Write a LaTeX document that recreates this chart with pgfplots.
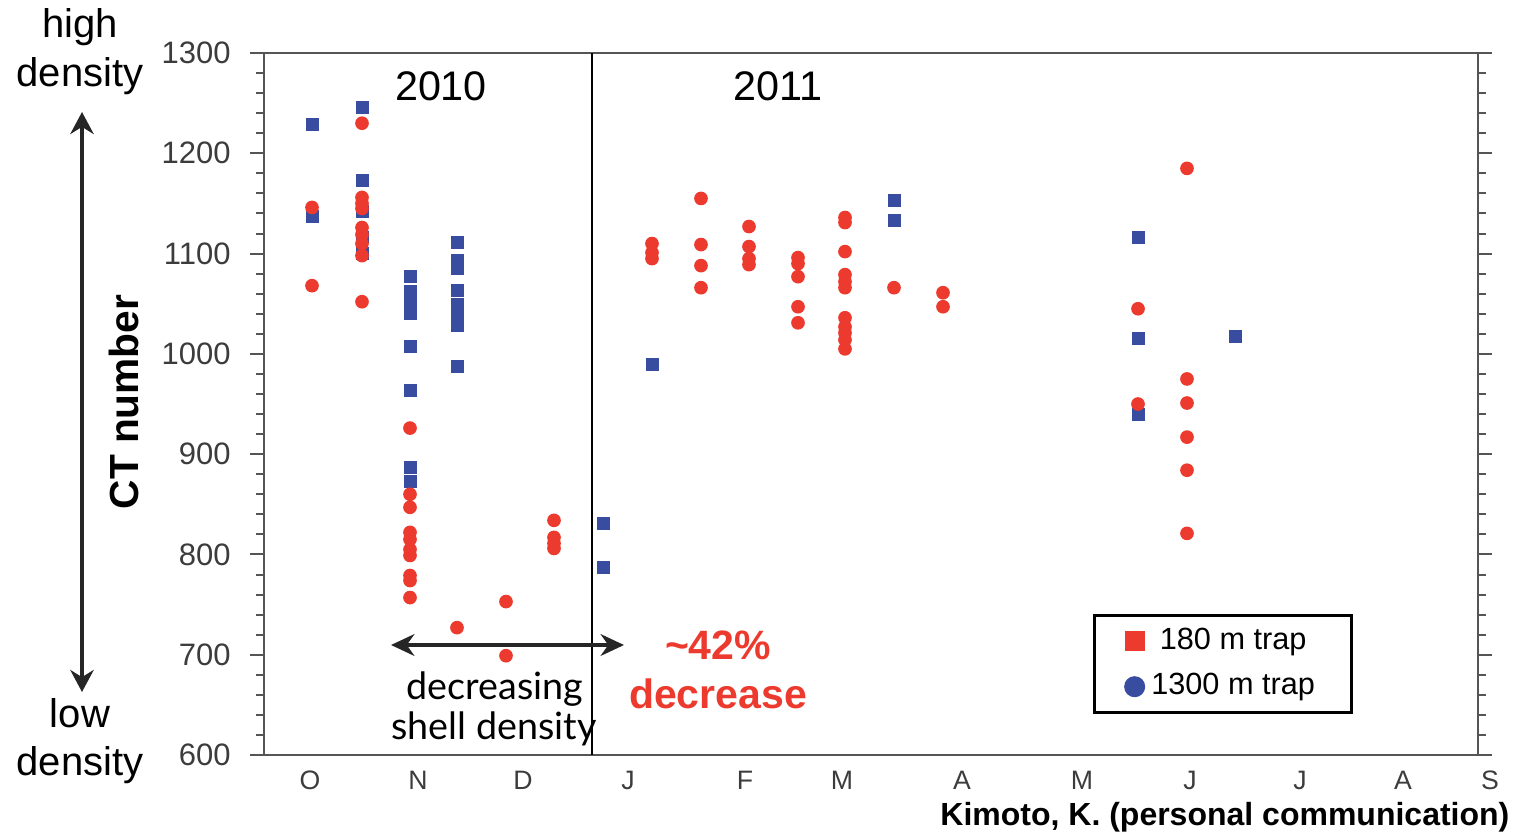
\documentclass[border=0pt]{standalone}
\usepackage{pgfplots}
\pgfplotsset{compat=1.18}
\usepackage{fontspec}
\setmainfont{Liberation Sans}
\newfontfamily\gillfont{Lato}
\usetikzlibrary{arrows.meta}
\definecolor{ptred}{RGB}{236,58,46}
\definecolor{ptblue}{RGB}{56,76,160}
\definecolor{framegray}{RGB}{85,85,85}
\definecolor{labgray}{RGB}{60,60,60}

\pgfplotstableread{
x y
312 1229
312 1137
362 1246
362 1173
362 1142
362 1116
362 1100
410 1077
410 1062
410 1055
410 1048
410 1040
410 1007
410 963
410 887
410 873
457 1111
457 1093
457 1085
457 1063
457 1049
457 1041
457 1028
457 987
603 831
603 787
652 989
894 1153
894 1133
1138 1116
1138 1015
1138 940
1235 1017
}\deeptrap

\pgfplotstableread{
x y
312 1146
312 1068
362 1230
362 1156
362 1150
362 1145
362 1126
362 1119
362 1110
362 1098
362 1052
410 926
410 860
410 847
410 822
410 815
410 805
410 799
410 779
410 774
410 757
457 727
506 753
506 699
554 834
554 817
554 811
554 806
652 1110
652 1101
652 1095
701 1155
701 1109
701 1088
701 1066
749 1127
749 1107
749 1095
749 1089
798 1096
798 1090
798 1077
798 1047
798 1031
845 1136
845 1131
845 1102
845 1079
845 1072
845 1066
845 1036
845 1027
845 1021
845 1014
845 1005
894 1066
943 1061
943 1047
1138 1045
1138 950
1187 1185
1187 975
1187 951
1187 917
1187 884
1187 821
}\shallowtrap

\begin{document}
\begin{tikzpicture}
\path[use as bounding box] (0,0) rectangle (455.1pt,249.6pt);
\begin{axis}[
  at={(79.2pt,23.1pt)}, anchor=south west,
  scale only axis, width=364.2pt, height=210.6pt,
  xmin=264, xmax=1478, ymin=600, ymax=1300,
  clip=false,
  axis line style={framegray, line width=0.6pt},
  /pgf/number format/assume math mode=true,
  /pgf/number format/1000 sep={},
  ytick={600,700,...,1300},
  minor y tick num=4,
  ytick pos=both, yticklabel pos=left,
  tick align=outside,
  major tick length=4.2pt, minor tick length=2.4pt,
  every tick/.style={framegray, line width=0.6pt},
  xtick=\empty,
  yticklabel style={font=\fontsize{9.3}{11}\selectfont, text=labgray, xshift=-2.3pt},
  legend cell align=center,
  legend style={at={(rel axis cs:0.683,0.201)}, anchor=north west, draw=black, line width=0.9pt,
    font=\fontsize{9.2}{11}\selectfont, inner xsep=9pt, inner ysep=1.8pt, row sep=1.7pt,
    /tikz/every even column/.append style={column sep=2.4pt}},
]
\addplot[only marks, mark=square*, mark size=1.75pt, color=ptblue, forget plot] table[x=x,y=y] {\deeptrap};
\addplot[only marks, mark=*, mark size=1.85pt, color=ptred, forget plot] table[x=x,y=y] {\shallowtrap};
\addlegendimage{only marks, mark=square*, mark size=2.8pt, color=ptred, line width=0.3pt}
\addlegendentry{180 m trap}
\addlegendimage{only marks, mark=*, mark size=3pt, color=ptblue, line width=0.3pt}
\addlegendentry{1300 m trap}
\draw[black, line width=0.5pt] (axis cs:592,600) -- (axis cs:592,1300);
\end{axis}
\begin{scope}[x=0.3pt, y=-0.3pt, yshift=249.6pt]
\node[anchor=base, font=\fontsize{12}{14}\selectfont] at (80,38) {high};
\node[anchor=base, font=\fontsize{12}{14}\selectfont] at (80,87) {density};
\node[anchor=base, font=\fontsize{12}{14}\selectfont] at (80,727) {low};
\node[anchor=base, font=\fontsize{12}{14}\selectfont] at (80,775) {density};
\draw[line width=1.4pt, black!85, {Stealth[length=6.6pt,width=7pt]}-{Stealth[length=6.6pt,width=7pt]}] (82,112) -- (82,692);
\node[anchor=base, rotate=90, font=\bfseries\fontsize{12.2}{14}\selectfont] at (138,402) {CT number};
\node[anchor=base, font=\fontsize{12.4}{14}\selectfont] at (441,100) {2010};
\node[anchor=base, font=\fontsize{12.4}{14}\selectfont] at (778,100) {2011};
\draw[line width=1.4pt, black!85, {Stealth[length=7pt,width=6.5pt]}-{Stealth[length=7pt,width=6.5pt]}] (391,645) -- (624,645);
\node[anchor=base, font=\gillfont\fontsize{11.3}{13}\selectfont] at (495,699) {decreasing};
\node[anchor=base, font=\gillfont\fontsize{11.3}{13}\selectfont] at (494,739) {shell density};
\node[anchor=base, text=ptred, font=\bfseries\fontsize{12.3}{14}\selectfont] at (718,659) {\textasciitilde 42\%};
\node[anchor=base, text=ptred, font=\bfseries\fontsize{12.3}{14}\selectfont] at (718,708) {decrease};
\foreach \px/\m in {310/O,418/N,523/D,628/J,745/F,842/M,962/A,1082/M,1190/J,1300/J,1403/A,1490/S}
  \node[anchor=base, text=labgray, font=\fontsize{8}{10}\selectfont] at (\px,789) {\m};
\node[anchor=base east, font=\bfseries\fontsize{9.6}{11}\selectfont, inner sep=0pt] at (1510,825) {Kimoto, K. (personal communication)};
\end{scope}
\end{tikzpicture}
\end{document}
